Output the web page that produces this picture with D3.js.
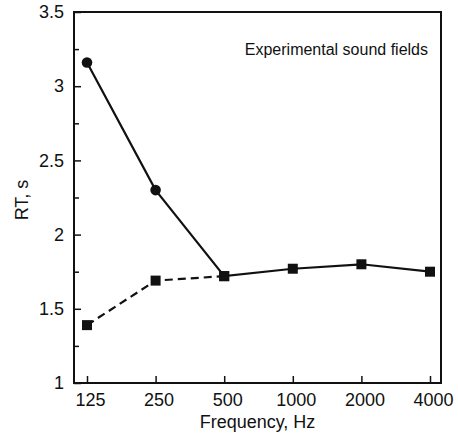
<!DOCTYPE html>
<html>
<head>
<meta charset="utf-8">
<script src="https://cdn.jsdelivr.net/npm/d3@7"></script>
<style>
  body { margin: 0; background: #fff; }
  svg text { font-family: "Liberation Sans", Arial, Helvetica, sans-serif; fill: #111; }
</style>
</head>
<body>
<svg id="chart" width="458" height="435"></svg>
<script>
// chart values
var frequencies = [125, 250, 500, 1000, 2000, 4000];
var freqLabels = ['125', '250', '500', '1000', '2000', '4000'];
var solidRT = [3.16, 2.30, 1.72, 1.77, 1.80, 1.75];
var solidMarkers = ['circle', 'circle', 'square', 'square', 'square', 'square'];
var dashedFreqs = [125, 250, 500];
var dashedRT = [1.39, 1.69, 1.72];
var yMajorTicks = [1, 1.5, 2, 2.5, 3, 3.5];
var yMinorTicks = [1.25, 1.75, 2.25, 2.75, 3.25];
var yLabels = ['1', '1.5', '2', '2.5', '3', '3.5'];

var svg = d3.select('#chart');
var frame = { left: 74, right: 441, top: 12, bottom: 383 };

var x = d3.scaleLog().base(2).domain([125, 4000]).range([87, 430]);
var y = d3.scaleLinear().domain([1, 3.5]).range([frame.bottom, frame.top]);

// y axis, ticks pointing inward
var yAxis = svg.append('g').attr('transform', 'translate(' + frame.left + ',0)')
  .call(d3.axisLeft(y).tickValues(yMajorTicks).tickSize(-7).tickPadding(10)
    .tickFormat(function (d, i) { return yLabels[i]; }));
yAxis.select('.domain').remove();
yAxis.selectAll('line').attr('stroke', '#111').attr('stroke-width', 1.5);
yAxis.selectAll('text').style('font-size', '18px').attr('fill', '#111');

var yMinor = svg.append('g').attr('transform', 'translate(' + frame.left + ',0)')
  .call(d3.axisLeft(y).tickValues(yMinorTicks).tickSize(-5).tickFormat(''));
yMinor.select('.domain').remove();
yMinor.selectAll('line').attr('stroke', '#111').attr('stroke-width', 1.5);

// x axis
var xAxis = svg.append('g').attr('transform', 'translate(0,' + frame.bottom + ')')
  .call(d3.axisBottom(x).tickValues(frequencies).tickSize(-7).tickPadding(10)
    .tickFormat(function (d, i) { return freqLabels[i]; }));
xAxis.select('.domain').remove();
xAxis.selectAll('line').attr('stroke', '#111').attr('stroke-width', 1.5);
xAxis.selectAll('text').style('font-size', '18px').attr('fill', '#111').attr('dx', 3);

// frame
svg.append('rect')
  .attr('x', frame.left).attr('y', frame.top)
  .attr('width', frame.right - frame.left).attr('height', frame.bottom - frame.top)
  .attr('fill', 'none').attr('stroke', '#111').attr('stroke-width', 2);

// lines
var line = d3.line().x(d => x(d.f)).y(d => y(d.v));
var solidData = frequencies.map((f, i) => ({ f: f, v: solidRT[i], m: solidMarkers[i] }));
var dashedData = dashedFreqs.map((f, i) => ({ f: f, v: dashedRT[i], m: 'square' }));

svg.append('path').datum(dashedData).attr('d', line)
  .attr('fill', 'none').attr('stroke', '#111').attr('stroke-width', 2.2)
  .attr('stroke-dasharray', '8,5');
svg.append('path').datum(solidData).attr('d', line)
  .attr('fill', 'none').attr('stroke', '#111').attr('stroke-width', 2.2);

// markers
var allPoints = solidData.concat(dashedData);
svg.selectAll('.sq').data(allPoints.filter(d => d.m === 'square')).enter()
  .append('rect').attr('class', 'sq')
  .attr('x', d => x(d.f) - 5).attr('y', d => y(d.v) - 5)
  .attr('width', 10).attr('height', 10).attr('fill', '#111');
svg.selectAll('.dot').data(allPoints.filter(d => d.m === 'circle')).enter()
  .append('circle').attr('class', 'dot')
  .attr('cx', d => x(d.f)).attr('cy', d => y(d.v)).attr('r', 5.3).attr('fill', '#111');

// titles
svg.append('text')
  .attr('x', (frame.left + frame.right) / 2).attr('y', 428)
  .attr('text-anchor', 'middle').style('font-size', '18px')
  .text('Frequency, Hz');
svg.append('text')
  .attr('transform', 'translate(28,200) rotate(-90)')
  .attr('text-anchor', 'middle').style('font-size', '18px')
  .text('RT, s');
svg.append('text')
  .attr('x', 428).attr('y', 55)
  .attr('text-anchor', 'end').style('font-size', '16px')
  .text('Experimental sound fields');
</script>
</body>
</html>
